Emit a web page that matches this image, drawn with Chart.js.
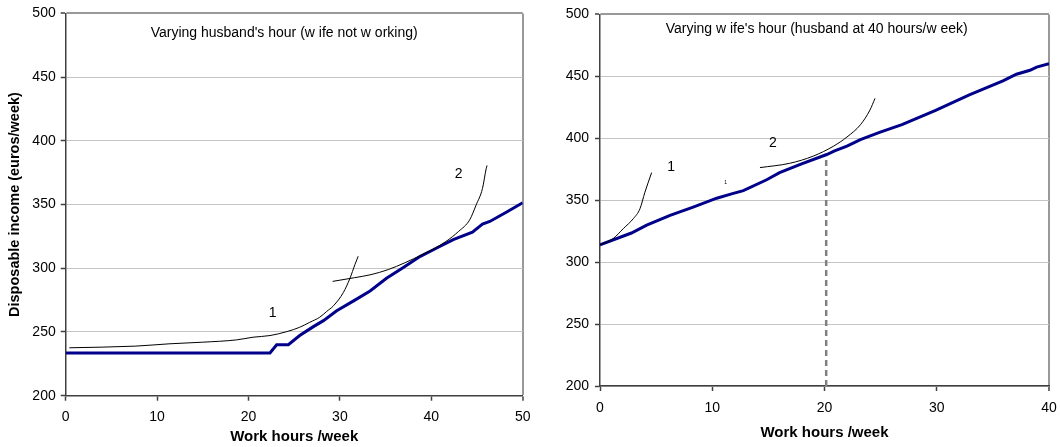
<!DOCTYPE html>
<html>
<head>
<meta charset="utf-8">
<script src="https://cdn.jsdelivr.net/npm/chart.js@4.4.1/dist/chart.umd.min.js"></script>
<style>
  body { margin: 0; background: #fff; }
  canvas { position: absolute; top: 0; }
  #husbandChart { left: 0; }
  #wifeChart { left: 530px; }
</style>
</head>
<body>
<canvas id="husbandChart" width="530" height="447"></canvas>
<canvas id="wifeChart" width="530" height="447"></canvas>
<script>
// Left panel: varying husband's hours (wife not working)
const husbandHours = [0, 22.35, 23.08, 24.36, 25.6, 27.1, 28.2, 29.65, 31.5, 33.3, 35.1, 36.9, 38.8, 40.6, 42.4, 44.5, 45.6, 46.4, 48.2, 50];
const husbandIncome = [233.5, 233.5, 240, 240, 247.2, 254.2, 258.9, 266.7, 274.4, 282.2, 292.1, 300.4, 309.4, 315.9, 322.4, 328.4, 334.6, 336.7, 344, 351.4];

const husbandCurve1Hours = [0.4, 7.6, 11.3, 15, 18.7, 20.5, 22.35, 24.2, 25.6, 26.7, 27.8, 28.55, 29.3, 30.37, 31.1, 31.65, 32.0];
const husbandCurve1Income = [237.6, 238.9, 240.7, 242, 243.8, 245.9, 247.2, 250.3, 253.7, 257.6, 261.6, 266.1, 270.6, 280.9, 292.1, 303, 309.4];

const husbandCurve2Hours = [29.2, 31.6, 33.4, 35.3, 37.1, 39, 40.1, 41.6, 43, 44.2, 44.9, 45.6, 46, 46.1];
const husbandCurve2Income = [289.7, 292.6, 295, 299, 304.3, 310.7, 314.6, 321, 329, 338, 349.6, 362.6, 378, 380.7];

const husbandNoteText = ["Varying husband's hour (w ife not w orking)", '1', '2'];
const husbandNoteX = [23.9, 22.65, 43];
const husbandNoteY = [484.5, 264.8, 373.5];

// Right panel: varying wife's hours (husband at 40 hours/week)
const wifeHours = [0, 2.8, 4.16, 6.24, 8.3, 10.4, 11.8, 12.77, 14.85, 16.0, 17.9, 20.2, 20.9, 22.0, 23.2, 24.9, 26.9, 29.9, 32.9, 35.9, 37.1, 38.3, 38.9, 40];
const wifeIncome = [313.9, 323.5, 329.8, 337.8, 344.4, 351.6, 355.3, 357.7, 366.5, 372.3, 379.2, 386.9, 389.8, 393.6, 398.9, 404.8, 411, 422.5, 435, 446.4, 451.7, 454.9, 457.5, 460.2];

const wifeCurve1Hours = [0, 1.18, 2.08, 2.97, 3.56, 4.0, 4.6];
const wifeCurve1Income = [313.9, 319.1, 327.1, 335.1, 343.1, 356.4, 372.3];

const wifeCurve2Hours = [14.25, 16.9, 19.0, 20.8, 22.0, 23.2, 24.05, 24.5];
const wifeCurve2Income = [376.3, 379.8, 385.6, 393.6, 401, 410.9, 422.8, 432.2];

const markerHours = [20.15, 20.15];
const markerIncome = [200, 386.5];

const wifeNoteText = ["Varying w ife's hour (husband at 40 hours/w eek)", '1', '2', '1'];
const wifeNoteX = [19.3, 6.34, 15.4, 11.2];
const wifeNoteY = [488, 377, 395.7, 364.4];

const FONT = '"Liberation Sans", Arial, sans-serif';

function toPoints(xs, ys) {
  return xs.map((x, i) => ({ x: x, y: ys[i] }));
}

// draws the free text (title inside the plot, curve numbers) at data coordinates
const notesPlugin = {
  id: 'notes',
  afterDatasetsDraw(chart, args, opts) {
    const ctx = chart.ctx;
    const xs = chart.scales.x, ys = chart.scales.y;
    ctx.save();
    ctx.fillStyle = '#000';
    ctx.textAlign = 'center';
    ctx.textBaseline = 'middle';
    opts.text.forEach((t, i) => {
      const size = opts.tiny === i ? 5 : 14;
      ctx.font = size + 'px ' + FONT;
      ctx.fillText(t, xs.getPixelForValue(opts.x[i]), ys.getPixelForValue(opts.y[i]));
    });
    ctx.restore();
  }
};

function createIncomeChart(canvasId, cfg) {
  const ctx = document.getElementById(canvasId).getContext('2d');
  const datasets = cfg.curves.map(c => ({
    data: c,
    borderColor: '#000',
    borderWidth: 1,
    pointRadius: 0,
    cubicInterpolationMode: 'monotone'
  }));
  datasets.push({
    data: cfg.main,
    borderColor: '#00008b',
    borderWidth: 3,
    pointRadius: 0,
    tension: 0
  });
  if (cfg.marker) {
    datasets.push({
      data: cfg.marker,
      borderColor: '#808080',
      borderWidth: 2.5,
      borderDash: [6, 4],
      pointRadius: 0
    });
  }

  return new Chart(ctx, {
    type: 'line',
    data: { datasets: datasets },
    options: {
      responsive: false, // fixed size canvas
      animation: false,
      layout: { padding: { top: 10, right: cfg.padRight, left: 0, bottom: 0 } },
      plugins: {
        legend: { display: false },
        tooltip: { enabled: false },
        notes: cfg.notes
      },
      scales: {
        x: {
          type: 'linear',
          min: 0,
          max: cfg.xMax,
          afterFit: s => {
            s.height = cfg.xHeight;
            s.paddingLeft = 0;
            s.paddingRight = 0; // let the end label hang over the edge
          },
          ticks: { stepSize: 10, color: '#000', padding: 8.5, font: { family: FONT, size: 14 } },
          grid: {
            color: c => c.tick && c.tick.value === cfg.xMax ? '#999' : 'rgba(0,0,0,0)',
            lineWidth: c => c.tick && c.tick.value === cfg.xMax ? 2 : 1,
            tickColor: '#404040',
            tickWidth: 1.5,
            tickLength: 5
          },
          border: { color: '#404040', width: 1.5 },
          title: {
            display: true,
            text: 'Work hours /week',
            color: '#000',
            font: { family: FONT, size: 15, weight: 'bold' },
            padding: { top: 0, bottom: cfg.xTitlePad }
          }
        },
        y: {
          min: 200,
          max: 500,
          afterFit: s => { s.width = cfg.yWidth; },
          ticks: { stepSize: 50, color: '#000', padding: cfg.yTickPad, font: { family: FONT, size: 14 } },
          grid: {
            color: c => c.tick && c.tick.value === 500 ? '#999' : '#c4c4c4',
            lineWidth: c => c.tick && c.tick.value === 500 ? 2 : 1,
            tickColor: '#404040',
            tickWidth: 1.5,
            tickLength: 5
          },
          border: { color: '#404040', width: 1.5 },
          title: {
            display: !!cfg.yTitle,
            text: cfg.yTitle || '',
            color: '#000',
            font: { family: FONT, size: 14.5, weight: 'bold' },
            padding: { top: 6.5, bottom: 0 }
          }
        }
      }
    },
    plugins: [notesPlugin]
  });
}

createIncomeChart('husbandChart', {
  main: toPoints(husbandHours, husbandIncome),
  curves: [toPoints(husbandCurve1Hours, husbandCurve1Income), toPoints(husbandCurve2Hours, husbandCurve2Income)],
  notes: { text: husbandNoteText, x: husbandNoteX, y: husbandNoteY },
  xMax: 50,
  xHeight: 51.3,
  yWidth: 65.7,
  padRight: 7.3,
  yTickPad: 5,
  xTitlePad: 1.3,
  yTitle: 'Disposable income (euros/week)'
});

createIncomeChart('wifeChart', {
  main: toPoints(wifeHours, wifeIncome),
  curves: [toPoints(wifeCurve1Hours, wifeCurve1Income), toPoints(wifeCurve2Hours, wifeCurve2Income)],
  marker: toPoints(markerHours, markerIncome),
  notes: { text: wifeNoteText, x: wifeNoteX, y: wifeNoteY, tiny: 3 },
  xMax: 40,
  xHeight: 61,
  yWidth: 70,
  padRight: 11,
  yTickPad: 6,
  xTitlePad: 4.7
});
</script>
</body>
</html>
